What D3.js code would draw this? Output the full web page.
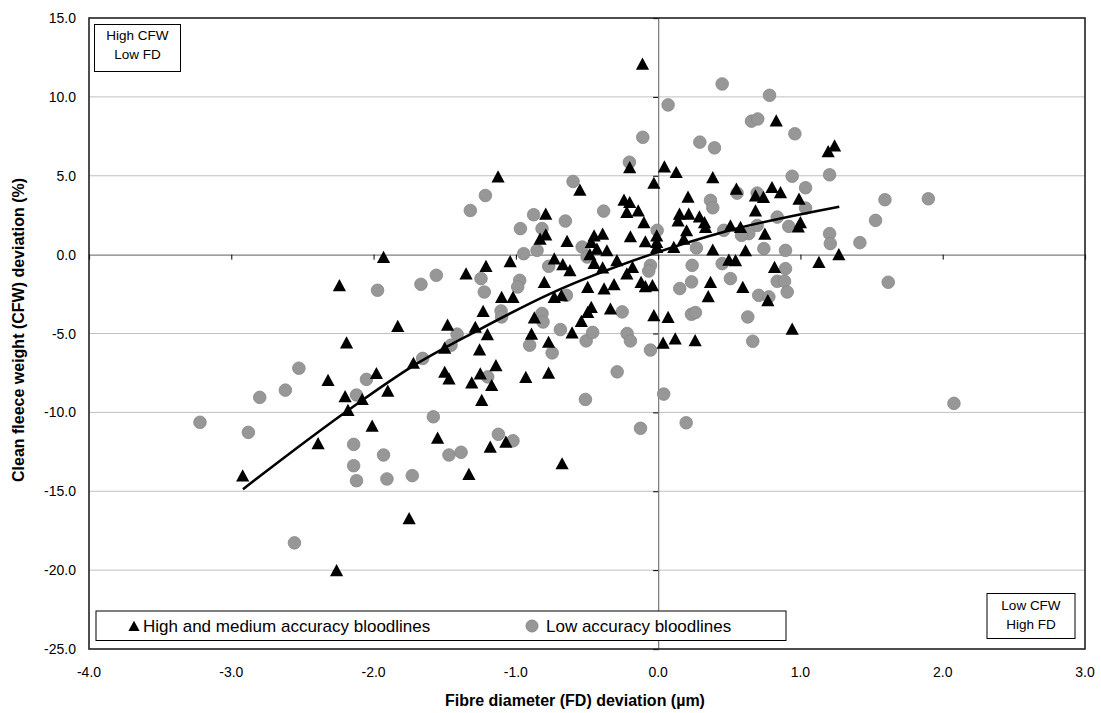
<!DOCTYPE html>
<html><head><meta charset="utf-8">
<script src="https://cdn.jsdelivr.net/npm/d3@7"></script>
<style>body{margin:0;background:#fff}svg{display:block;font-family:Arial,"Liberation Sans",sans-serif}</style>
</head><body><svg id="c" width="1101" height="713"></svg>
<script>
const xTicks = [-4,-3,-2,-1,0,1,2,3];
const yTicks = [-25,-20,-15,-10,-5,0,5,10,15];
const hiX = [-2.92,-2.26,-2.39,-2.32,-2.20,-2.08,-2.18,-2.01,-1.98,-1.90,-1.72,-1.75,-1.55,-1.50,-1.47,-1.50,-1.33,-1.31,-1.25,-1.255,-1.20,-1.14,-1.17,-1.24,-1.18,-1.07,-0.93,-0.77,-0.89,-0.77,-0.605,-0.675,-1.93,-2.24,-1.83,-2.19,-1.48,-1.125,-0.55,-0.20,-1.35,-1.21,-1.04,-1.285,-1.23,-1.10,-1.02,-0.87,-0.80,-0.73,-0.79,-0.79,-0.83,-0.64,-0.67,-0.62,-0.68,-0.73,-0.495,-0.47,-0.495,-0.54,-0.335,-0.38,-0.31,-0.45,-0.39,-0.47,-0.43,-0.48,-0.36,-0.45,-0.39,-0.29,-0.24,-0.20,-0.14,-0.22,-0.10,-0.195,-0.09,-0.18,-0.22,-0.12,-0.09,-0.03,0.044,0.127,-0.01,-0.01,-0.01,0.11,0.15,0.14,0.21,0.20,0.18,-0.04,-0.03,0.07,0.035,0.12,0.26,-0.11,0.83,1.195,1.24,0.384,0.55,0.80,0.86,0.684,0.74,0.99,0.684,1.0,0.985,0.215,0.29,0.326,0.333,0.508,0.579,0.75,0.384,0.614,0.497,0.544,0.818,1.13,1.27,0.368,0.595,0.352,0.771,0.942];
const hiY = [-14.0,-20.0,-11.96,-7.95,-8.97,-9.16,-9.85,-10.85,-7.51,-8.63,-6.86,-16.71,-11.61,-7.43,-7.85,-5.90,-13.9,-8.1,-7.53,-6.01,-5.05,-7.01,-8.27,-9.22,-12.18,-11.86,-7.75,-7.49,-5.02,-5.53,-4.93,-13.23,-0.15,-1.94,-4.52,-5.57,-4.45,4.96,4.11,5.54,-1.2,-0.72,-0.42,-4.58,-3.57,-2.68,-2.68,-3.99,-1.73,-0.25,2.59,1.28,1.01,0.86,-0.61,-0.99,-2.58,-2.68,-2.05,-3.32,-3.63,-4.2,-3.42,-2.15,-1.88,1.22,1.33,0.8,0.38,0.02,0.27,-0.53,-0.82,-0.36,3.48,3.33,2.8,2.7,2.06,1.16,0.84,-0.78,-1.2,-1.73,-2.0,4.55,5.59,5.23,1.22,0.8,0.48,0.48,2.59,2.17,3.67,1.54,1.01,-1.94,-3.84,-3.95,-5.59,-5.32,-5.42,12.1,8.5,6.56,6.92,4.91,4.18,4.28,3.96,3.75,3.65,3.54,2.8,2.06,1.79,2.59,2.42,2.06,1.75,1.85,1.75,1.33,0.32,0.27,-0.32,-0.36,-0.78,-0.47,0.02,-1.73,-2.05,-2.64,-2.89,-4.7];
const loX = [-3.22,-2.88,-2.80,-2.62,-2.525,-2.556,-2.05,-2.12,-1.58,-1.47,-2.14,-1.93,-2.14,-2.12,-1.906,-1.728,-1.655,-1.385,-1.123,-1.02,-1.456,-1.413,-1.198,-0.903,-0.745,-0.687,-0.506,-0.46,-0.288,-0.511,-1.972,-1.667,-1.559,-1.214,-1.32,-0.598,-0.202,-0.875,-0.652,-0.383,-0.968,-0.816,-0.945,-0.851,-0.534,-0.499,-0.007,-0.769,-1.245,-0.973,-0.987,-1.222,-0.645,-0.054,-0.066,0.152,0.235,-0.253,-1.104,-1.10,-0.816,-0.809,-0.218,-0.195,-0.054,0.45,0.783,0.07,0.656,0.70,0.961,-0.108,0.293,0.396,0.942,1.205,1.036,1.594,1.899,1.528,1.418,1.205,1.21,1.617,0.555,0.368,0.384,0.696,0.837,1.036,0.918,0.696,0.637,0.586,0.461,0.269,0.743,0.895,0.239,0.45,0.508,0.895,0.837,0.888,0.907,0.707,0.778,0.234,0.262,0.63,0.665,0.039,-0.124,0.197,2.079];
const loY = [-10.63,-11.27,-9.05,-8.59,-7.2,-18.27,-7.91,-8.9,-10.28,-12.7,-12.03,-12.7,-13.38,-14.33,-14.22,-14.01,-6.58,-12.53,-11.39,-11.8,-5.74,-5.04,-7.75,-5.74,-6.23,-4.75,-5.47,-4.93,-7.43,-9.18,-2.26,-1.88,-1.31,3.75,2.8,4.64,5.86,2.53,2.13,2.76,1.65,1.65,0.06,0.27,0.48,-0.15,1.54,-0.74,-1.52,-1.63,-2.05,-2.37,-2.58,-0.68,-1.04,-2.15,-1.73,-3.63,-3.57,-3.95,-3.73,-4.27,-5.0,-5.47,-6.05,10.82,10.1,9.49,8.46,8.6,7.66,7.44,7.13,6.77,4.97,5.06,4.24,3.48,3.54,2.17,0.76,1.33,0.7,-1.75,3.9,3.44,2.97,3.9,2.38,2.95,1.79,1.85,1.33,1.22,1.54,0.42,0.38,0.27,-0.68,-0.57,-1.52,-0.89,-1.69,-1.69,-2.37,-2.58,-2.68,-3.78,-3.67,-3.95,-5.49,-8.84,-11.01,-10.66,-9.43];
const trendX = [-2.918,-2.176,-1.73,-1.278,-0.757,-0.054,0.473,1.273];
const trendY = [-14.87,-9.85,-7.1,-4.85,-2.47,0.0,1.47,3.04];
const seriesNames = ["High and medium accuracy bloodlines","Low accuracy bloodlines"];

const L=89,R=1085,T=18,B=649;
const svg=d3.select("#c");
const x=d3.scaleLinear().domain([-4,3]).range([L,R]);
const y=d3.scaleLinear().domain([-25,15]).range([B,T]);
const fmt=d=>d3.format(".1f")(d).replace("\u2212","-");

// gridlines
svg.append("g").selectAll("line").data(yTicks.filter(v=>v!==0&&v!==-25&&v!==15)).join("line")
  .attr("x1",L).attr("x2",R).attr("y1",d=>y(d)).attr("y2",d=>y(d))
  .attr("stroke","#c0c0c0").attr("stroke-width",1);

// zero axes
const yAx=svg.append("g").attr("transform",`translate(${x(0)},0)`)
  .call(d3.axisLeft(y).tickValues(yTicks).tickSize(5).tickFormat(""));
yAx.select(".domain").attr("stroke","#808080").attr("stroke-width",1.3);
yAx.selectAll(".tick line").attr("stroke","#000");
const xAx=svg.append("g").attr("transform",`translate(0,${y(0)})`)
  .call(d3.axisBottom(x).tickValues(xTicks).tickSize(5).tickFormat(""));
xAx.select(".domain").attr("stroke","#808080").attr("stroke-width",1.3);
xAx.selectAll(".tick line").attr("stroke","#000");

// tick labels at low edge
svg.append("g").selectAll("text").data(yTicks).join("text")
  .attr("x",L-13).attr("y",d=>y(d)).attr("dy","0.36em").attr("text-anchor","end")
  .attr("font-size",14).text(fmt);
svg.append("g").selectAll("text").data(xTicks).join("text")
  .attr("x",d=>x(d)).attr("y",B+28).attr("text-anchor","middle")
  .attr("font-size",14).text(fmt);

// plot border
svg.append("rect").attr("x",L).attr("y",T).attr("width",R-L).attr("height",B-T)
  .attr("fill","none").attr("stroke","#222").attr("stroke-width",1.6);

// circles
const lo=loX.map((v,i)=>({x:v,y:loY[i]}));
svg.append("g").selectAll("circle").data(lo).join("circle")
  .attr("cx",d=>x(d.x)).attr("cy",d=>y(d.y)).attr("r",6.3)
  .attr("fill","#979797").attr("stroke","#888").attr("stroke-width",0.8);

// triangles
const tri="M0,-6.2L6.6,6L-6.6,6Z";
const hi=hiX.map((v,i)=>({x:v,y:hiY[i]}));
svg.append("g").selectAll("path").data(hi).join("path")
  .attr("d",tri).attr("transform",d=>`translate(${x(d.x)},${y(d.y)})`).attr("fill","#000");

// trend
const tr=trendX.map((v,i)=>({x:v,y:trendY[i]}));
svg.append("path").datum(tr).attr("fill","none").attr("stroke","#000").attr("stroke-width",2.6)
  .attr("d",d3.line().x(d=>x(d.x)).y(d=>y(d.y)).curve(d3.curveMonotoneX));

// quadrant boxes
svg.append("rect").attr("x",94.5).attr("y",24.5).attr("width",86).attr("height",47)
  .attr("fill","#fff").attr("stroke","#000").attr("stroke-width",1);
svg.append("text").attr("x",137.5).attr("y",40).attr("text-anchor","middle").attr("font-size",13.5).text("High CFW");
svg.append("text").attr("x",137.5).attr("y",59).attr("text-anchor","middle").attr("font-size",13.5).text("Low FD");
svg.append("rect").attr("x",987).attr("y",593.5).attr("width",88).attr("height",45)
  .attr("fill","#fff").attr("stroke","#000").attr("stroke-width",1);
svg.append("text").attr("x",1031).attr("y",610).attr("text-anchor","middle").attr("font-size",13.5).text("Low CFW");
svg.append("text").attr("x",1031).attr("y",629).attr("text-anchor","middle").attr("font-size",13.5).text("High FD");

// legend
svg.append("rect").attr("x",96).attr("y",611).attr("width",690).attr("height",29.5)
  .attr("fill","#fff").attr("stroke","#000").attr("stroke-width",1);
svg.append("path").attr("d",tri).attr("transform","translate(134,626) scale(0.85)").attr("fill","#000");
svg.append("text").attr("x",143).attr("y",632).attr("font-size",17).text(seriesNames[0]);
svg.append("circle").attr("cx",532).attr("cy",626).attr("r",6).attr("fill","#979797").attr("stroke","#888");
svg.append("text").attr("x",546).attr("y",632).attr("font-size",17).text(seriesNames[1]);

// axis titles
svg.append("text").attr("x",575).attr("y",706).attr("text-anchor","middle")
  .attr("font-size",16).attr("font-weight","bold").text("Fibre diameter (FD) deviation (µm)");
svg.append("text").attr("transform","translate(24,330) rotate(-90)").attr("text-anchor","middle")
  .attr("font-size",16).attr("font-weight","bold").text("Clean fleece weight (CFW) deviation (%)");
</script></body></html>
